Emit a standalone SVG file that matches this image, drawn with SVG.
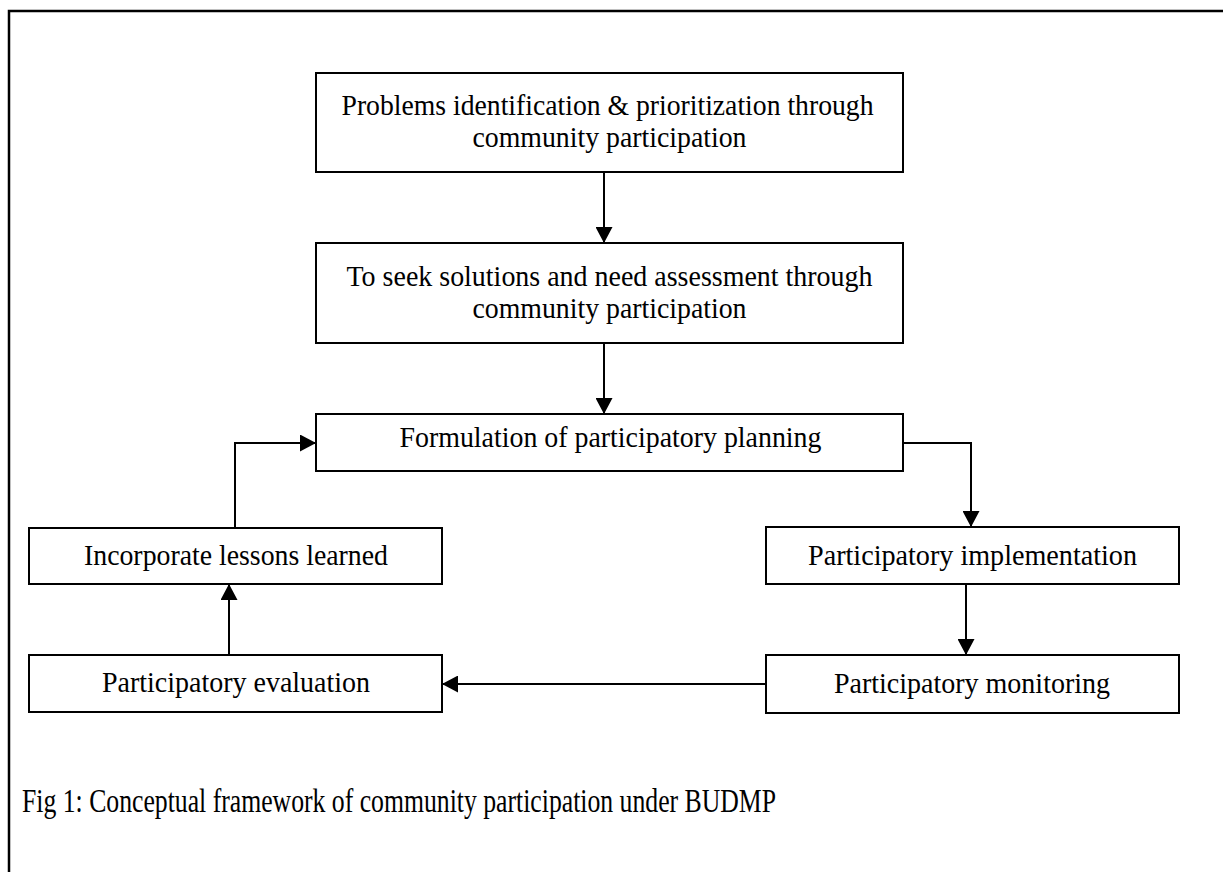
<svg xmlns="http://www.w3.org/2000/svg" width="1223" height="872" viewBox="0 0 1223 872">
<defs>
<style>
.box{fill:#fff;stroke:#000;stroke-width:2}
.t{font-family:"Liberation Serif","DejaVu Serif",serif;font-size:30px;fill:#000;text-anchor:middle}
.cap{font-family:"Liberation Serif","DejaVu Serif",serif;font-size:33px;fill:#000}
.c{fill:none;stroke:#000;stroke-width:2}
</style>
<marker id="ah" markerWidth="16" markerHeight="17" refX="16" refY="8.5" orient="auto" markerUnits="userSpaceOnUse">
<path d="M0,0 L16,8.5 L0,17 Z" fill="#000"/>
</marker>
</defs>
<rect width="1223" height="872" fill="#fff"/>
<path d="M9,872 V11 H1223" fill="none" stroke="#000" stroke-width="2.5"/>
<g id="connectors">
<path class="c" d="M604,172 V243" marker-end="url(#ah)"/>
<path class="c" d="M604,343 V414" marker-end="url(#ah)"/>
<path class="c" d="M903,443 H971 V527" marker-end="url(#ah)"/>
<path class="c" d="M966,584 V655" marker-end="url(#ah)"/>
<path class="c" d="M766,684 H442" marker-end="url(#ah)"/>
<path class="c" d="M229,656 V584" marker-end="url(#ah)"/>
<path class="c" d="M235,528 V443 H316" marker-end="url(#ah)"/>
</g>
<g id="n1">
<rect class="box" x="316" y="73" width="587" height="99"/>
<text class="t" x="607.5" y="115" textLength="532" lengthAdjust="spacingAndGlyphs">Problems identification &amp; prioritization through</text>
<text class="t" x="609.5" y="147" textLength="274" lengthAdjust="spacingAndGlyphs">community participation</text>
</g>
<g id="n2">
<rect class="box" x="316" y="243" width="587" height="100"/>
<text class="t" x="609.5" y="286" textLength="526" lengthAdjust="spacingAndGlyphs">To seek solutions and need assessment through</text>
<text class="t" x="609.5" y="318" textLength="274" lengthAdjust="spacingAndGlyphs">community participation</text>
</g>
<g id="n3">
<rect class="box" x="316" y="414" width="587" height="57"/>
<text class="t" x="610.5" y="447" textLength="422" lengthAdjust="spacingAndGlyphs">Formulation of participatory planning</text>
</g>
<g id="n4">
<rect class="box" x="766" y="527" width="413" height="57"/>
<text class="t" x="972.5" y="565" textLength="329" lengthAdjust="spacingAndGlyphs">Participatory implementation</text>
</g>
<g id="n5">
<rect class="box" x="766" y="655" width="413" height="58"/>
<text class="t" x="972" y="693" textLength="276" lengthAdjust="spacingAndGlyphs">Participatory monitoring</text>
</g>
<g id="n6">
<rect class="box" x="29" y="655" width="413" height="57"/>
<text class="t" x="236" y="692" textLength="268" lengthAdjust="spacingAndGlyphs">Participatory evaluation</text>
</g>
<g id="n7">
<rect class="box" x="29" y="528" width="413" height="56"/>
<text class="t" x="236" y="565" textLength="304" lengthAdjust="spacingAndGlyphs">Incorporate lessons learned</text>
</g>
<text class="cap" x="22" y="812" textLength="754" lengthAdjust="spacingAndGlyphs">Fig 1: Conceptual framework of community participation under BUDMP</text>
</svg>
